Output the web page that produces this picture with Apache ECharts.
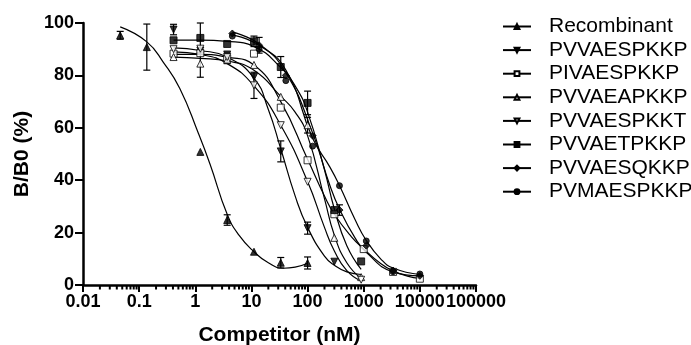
<!DOCTYPE html>
<html>
<head>
<meta charset="utf-8">
<script src="https://cdn.jsdelivr.net/npm/echarts@6/dist/echarts.min.js"></script>
<style>
  html, body { margin: 0; padding: 0; background: #fff; }
  #chart { width: 691px; height: 345px; }
</style>
</head>
<body>
<div id="chart"></div>
<script>
// 竞争物浓度 (nM) / B/B0 (%)
const seriesNames = ["Recombinant", "PVVAESPKKP", "PIVAESPKKP", "PVVAEAPKKP",
  "PVVAESPKKT", "PVVAETPKKP", "PVVAESQKKP", "PVMAESPKKP"];
const xTicks = [0.01, 0.1, 1, 10, 100, 1000, 10000, 100000];
const xTickLabels = ["0.01", "0.1", "1", "10", "100", "1000", "10000", "100000"];

// 每组: 测量点 [nM, %]、误差 (±)、图中的拟合曲线
const recombinantPoints = [[0.046, 95.3], [0.137, 90.8], [1.23, 50.8], [3.7, 24.8], [11.1, 12.7], [33.3, 8.5], [100, 8.4]];
const recombinantErr = [1.5, 8.8, 0, 2, 0, 2, 2.3];
const recombinantCurve = [[0.046, 98.5], [0.137, 92.8], [0.27, 85], [0.53, 75], [1.13, 58], [1.84, 46],
  [3.7, 27], [6, 19], [11.1, 12.7], [20, 8.5], [37, 6.4], [60, 6.8], [100, 8.3]];

const pvvaespkkpPoints = [[0.41, 97.5], [1.23, 89.5], [3.7, 88], [11.1, 79.4], [33.3, 51], [100, 21.7], [300, 8.9]];
const pvvaespkkpErr = [2, 0, 0, 0, 4, 2.3, 0];
const pvvaespkkpCurve = [[0.41, 90.5], [1.23, 89.5], [3.7, 87], [11.1, 79], [20, 67], [33.3, 52], [60, 34],
  [100, 22], [200, 11], [300, 7.5], [500, 5], [900, 4]];

const pivaespkkpPoints = [[0.41, 88.3], [1.23, 88.5], [3.7, 86.5], [11.1, 88.3], [33.3, 67.7], [100, 47.6],
  [300, 27], [1000, 13.7], [3333, 5], [10000, 2.4]];
const pivaespkkpErr = [0, 0, 2, 0, 0, 0, 0, 0, 0, 0];
const pivaespkkpCurve = [[0.41, 88], [1.23, 88], [3.7, 87], [11.1, 84], [33.3, 70], [100, 48], [200, 34],
  [300, 27], [600, 18.5], [1000, 13.8], [2000, 8.2], [3333, 5.4], [6000, 3.4], [10000, 2.5]];

const pvvaeapkkpPoints = [[0.41, 87], [1.23, 84.5], [3.7, 86], [11.1, 84], [33.3, 71.8], [100, 61], [300, 18], [900, 3]];
const pvvaeapkkpErr = [0, 5.2, 0, 0, 0, 3, 0, 0];
const pvvaeapkkpCurve = [[0.41, 87], [1.23, 86.5], [3.7, 85.5], [11.1, 82], [33.3, 72], [60, 66], [100, 57],
  [200, 33], [300, 19], [500, 8.5], [900, 2.5]];

const pvvaespkktPoints = [[0.41, 90], [1.23, 90.2], [3.7, 87], [11.1, 76.2], [33.3, 61], [100, 39.4], [900, 2]];
const pvvaespkktErr = [0, 0, 0, 5, 0, 0, 0];
const pvvaespkktCurve = [[0.41, 89], [1.23, 88], [3.7, 84.5], [11.1, 76], [33.3, 61], [100, 39.5], [200, 22],
  [300, 13], [500, 5.5], [900, 1.5]];

const pvvaetpkkpPoints = [[0.41, 93.4], [1.23, 94.3], [3.7, 92], [11.1, 93], [33.3, 83.2], [100, 69.5], [300, 28.6], [900, 9]];
const pvvaetpkkpErr = [0, 5.7, 0, 2, 4, 4.5, 0, 0];
const pvvaetpkkpCurve = [[0.41, 93.5], [1.23, 93.5], [3.7, 93], [11.1, 91], [33.3, 83], [60, 76], [100, 66],
  [200, 44], [300, 29], [500, 15], [900, 6]];

const pvvaesqkkpPoints = [[4.57, 96], [13.7, 91.5], [41, 80], [123, 57], [370, 28.6], [1111, 15], [3333, 5.5], [10000, 3.5]];
const pvvaesqkkpErr = [0, 3, 0, 0, 2, 0, 0, 0];
const pvvaesqkkpCurve = [[4.57, 96.5], [13.7, 92], [41, 81], [123, 58], [250, 38], [370, 29], [700, 18],
  [1111, 12.5], [3333, 5], [10000, 3.5]];

const pvmaespkkpPoints = [[4.57, 95], [13.7, 90], [41, 78], [123, 53], [370, 37.9], [1111, 16.8], [3333, 5.1], [10000, 4.2]];
const pvmaespkkpErr = [0, 0, 0, 0, 0, 0, 0, 0];
const pvmaespkkpCurve = [[4.57, 95.5], [13.7, 91.5], [41, 82], [123, 56], [250, 45], [370, 38], [700, 25],
  [1111, 17], [2000, 10], [3333, 6.5], [10000, 4]];

const FONT = '"Liberation Sans", Arial, sans-serif';

// 对数轴的次刻度 (2..9 × 10^n)
const minorTicks = [];
xTicks.slice(0, -1).forEach((d) => {
  for (let m = 2; m <= 9; m++) minorTicks.push(d * m);
});

const filled = { color: "#000", borderColor: "#000", borderWidth: 1 };
const open = { color: "#fff", borderColor: "#000", borderWidth: 1 };
const lineStyle = { color: "#000", width: 1.2 };

const groups = [
  { name: "Recombinant", points: recombinantPoints, err: recombinantErr, curve: recombinantCurve, symbol: "triangle", size: 7, style: filled, rotate: 0 },
  { name: "PVVAESPKKP", points: pvvaespkkpPoints, err: pvvaespkkpErr, curve: pvvaespkkpCurve, symbol: "triangle", size: 7, style: filled, rotate: 180 },
  { name: "PIVAESPKKP", points: pivaespkkpPoints, err: pivaespkkpErr, curve: pivaespkkpCurve, symbol: "rect", size: 7, style: open, rotate: 0 },
  { name: "PVVAEAPKKP", points: pvvaeapkkpPoints, err: pvvaeapkkpErr, curve: pvvaeapkkpCurve, symbol: "triangle", size: 7, style: open, rotate: 0 },
  { name: "PVVAESPKKT", points: pvvaespkktPoints, err: pvvaespkktErr, curve: pvvaespkktCurve, symbol: "triangle", size: 7, style: open, rotate: 180 },
  { name: "PVVAETPKKP", points: pvvaetpkkpPoints, err: pvvaetpkkpErr, curve: pvvaetpkkpCurve, symbol: "rect", size: 7, style: filled, rotate: 0 },
  { name: "PVVAESQKKP", points: pvvaesqkkpPoints, err: pvvaesqkkpErr, curve: pvvaesqkkpCurve, symbol: "diamond", size: 7, style: filled, rotate: 0 },
  { name: "PVMAESPKKP", points: pvmaespkkpPoints, err: pvmaespkkpErr, curve: pvmaespkkpCurve, symbol: "circle", size: 6, style: filled, rotate: 0 },
];

const errorBars = [];
groups.forEach((g) => {
  g.points.forEach((p, i) => {
    if (g.err[i] > 0) errorBars.push([p[0], p[1], g.err[i]]);
  });
});

const series = [];
groups.forEach((g) => {
  // 拟合曲线 (图例用它的符号)
  series.push({
    name: g.name,
    type: "line",
    data: g.curve,
    smooth: 0.5,
    symbol: g.symbol,
    symbolRotate: g.rotate,
    showSymbol: false,
    itemStyle: g.style,
    lineStyle,
    z: 3,
  });
  // 数据点
  series.push({
    name: g.name + "-points",
    type: "scatter",
    data: g.points,
    symbol: g.symbol,
    symbolSize: g.size,
    symbolRotate: g.rotate,
    itemStyle: g.style,
    z: 4,
  });
});

series.push({
  name: "error-bars",
  type: "custom",
  clip: false,
  z: 2,
  data: errorBars,
  renderItem: (params, api) => {
    const x = api.value(0);
    const y = api.value(1);
    const e = api.value(2);
    const top = api.coord([x, y + e]);
    const bot = api.coord([x, y - e]);
    const hw = 3.5;
    const style = { stroke: "#000", lineWidth: 1.2 };
    return {
      type: "group",
      children: [
        { type: "line", shape: { x1: top[0], y1: top[1], x2: bot[0], y2: bot[1] }, style },
        { type: "line", shape: { x1: top[0] - hw, y1: top[1], x2: top[0] + hw, y2: top[1] }, style },
        { type: "line", shape: { x1: bot[0] - hw, y1: bot[1], x2: bot[0] + hw, y2: bot[1] }, style },
      ],
    };
  },
});

series.push({
  name: "minor-ticks",
  type: "custom",
  clip: false,
  silent: true,
  data: minorTicks.map((v) => [v, 0]),
  renderItem: (params, api) => {
    const p = api.coord([api.value(0), 0]);
    return {
      type: "line",
      shape: { x1: p[0], y1: p[1], x2: p[0], y2: p[1] + 4.5 },
      style: { stroke: "#000", lineWidth: 2 },
    };
  },
});

const chart = echarts.init(document.getElementById("chart"), null, { renderer: "canvas" });

chart.setOption({
  animation: false,
  backgroundColor: "#fff",
  textStyle: { fontFamily: FONT },
  grid: { left: 83, right: 215, top: 23, bottom: 60, containLabel: false, outerBoundsMode: "none" },
  legend: {
    orient: "vertical",
    left: 502,
    top: 15.5,
    padding: 0,
    itemWidth: 28,
    itemHeight: 6,
    itemGap: 1.6,
    selectedMode: false,
    data: seriesNames,
    textStyle: { fontFamily: FONT, fontSize: 21, color: "#000", lineHeight: 22, padding: [0, 0, 0, 13] },
  },
  xAxis: {
    type: "log",
    logBase: 10,
    min: 0.01,
    max: 100000,
    splitNumber: 7,
    name: "Competitor (nM)",
    nameLocation: "middle",
    nameGap: 40,
    nameTextStyle: { fontFamily: FONT, fontSize: 21, fontWeight: "bold", color: "#000" },
    axisLine: { lineStyle: { color: "#000", width: 2.5 } },
    axisTick: { length: 7, lineStyle: { color: "#000", width: 2 } },
    axisLabel: {
      margin: 8,
      interval: 0,
      hideOverlap: false,
      fontFamily: FONT,
      fontSize: 18,
      fontWeight: "bold",
      color: "#000",
      formatter: (v) => {
        const i = xTicks.findIndex((t) => Math.abs(Math.log10(t) - Math.log10(v)) < 1e-6);
        return i >= 0 ? xTickLabels[i] : "";
      },
    },
    splitLine: { show: false },
  },
  yAxis: {
    type: "value",
    min: 0,
    max: 100,
    interval: 20,
    name: "B/B0 (%)",
    nameLocation: "middle",
    nameGap: 48,
    nameTextStyle: { fontFamily: FONT, fontSize: 21, fontWeight: "bold", color: "#000" },
    axisLine: { show: true, lineStyle: { color: "#000", width: 2.5 } },
    axisTick: { show: true, length: 8, lineStyle: { color: "#000", width: 2 } },
    axisLabel: { margin: 9, fontFamily: FONT, fontSize: 18, fontWeight: "bold", color: "#000" },
    splitLine: { show: false },
  },
  series,
});
</script>
</body>
</html>
